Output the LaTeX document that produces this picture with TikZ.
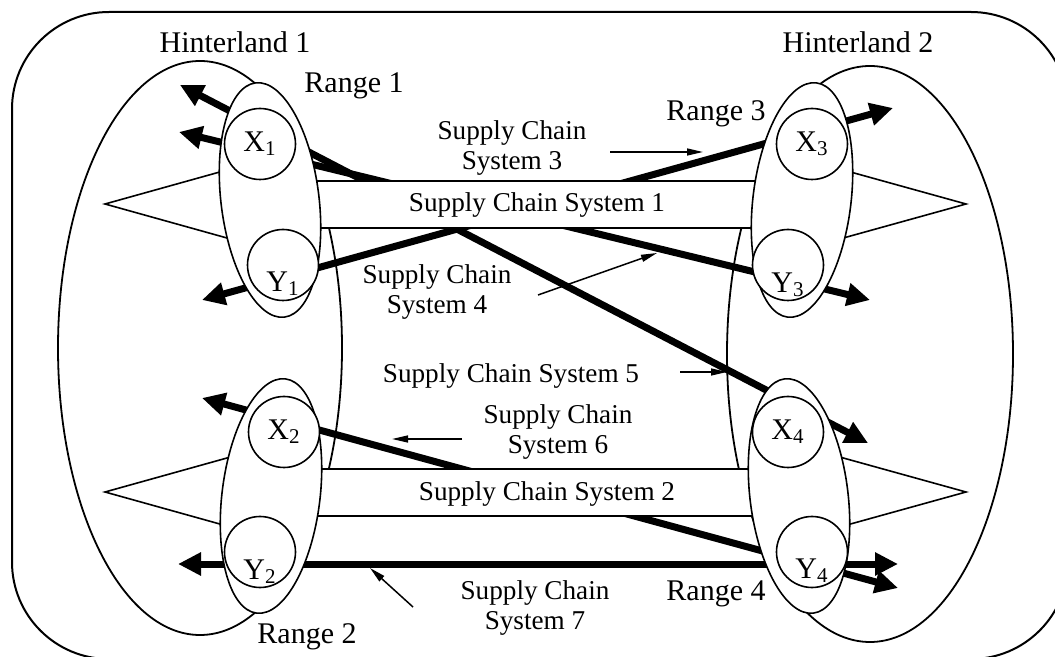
\documentclass[tikz,border=0pt]{standalone}
\usepackage{fontspec}
\setmainfont{Liberation Serif}
\usetikzlibrary{shapes.geometric,arrows.meta}

\tikzset{
  zone/.style={draw, line width=0.9pt},
  band/.style={draw, fill=white, line width=0.8pt},
  rangebox/.style={ellipse, draw, fill=white, line width=0.8pt, inner sep=0pt, minimum width=49pt, minimum height=118pt},
  port/.style={circle, draw, fill=white, line width=0.8pt, inner sep=0pt, minimum size=35.5pt},
  flow/.style={line width=3.5pt, {Triangle[length=11.5pt,width=11pt]}-{Triangle[length=11.5pt,width=11pt]}},
  pointer/.style={line width=0.75pt, -{Triangle[length=8pt,width=3.5pt]}},
  sys/.style={font=\fontsize{13.6}{15}\selectfont, align=center}
}

\begin{document}
\begin{tikzpicture}[x=0.5pt, y=-0.5pt, font=\fontsize{15}{18}\selectfont]
\useasboundingbox (0,0) rectangle (1055,657);

% outer frame and hinterlands
\draw[line width=1pt, rounded corners=48.5pt] (12,12) rectangle (1068,659);
\draw[zone] (200,348) ellipse [x radius=142, y radius=287];
\draw[zone] (870,354) ellipse [x radius=143, y radius=288];

% supply chain flows
\coordinate (x1out) at (180,85);
\coordinate (x4out) at (868,443);
\coordinate (y1out) at (202,300);
\coordinate (x3out) at (893,108);
\coordinate (x1low) at (179,132);
\coordinate (y3out) at (870,300);
\coordinate (x2out) at (202,398);
\coordinate (y4low) at (898,588);
\coordinate (y2out) at (178,564);
\coordinate (y4out) at (898,564);
\draw[flow] (x1out) -- (x4out);
\draw[flow] (y1out) -- (x3out);
\draw[flow] (x1low) -- (y3out);
\draw[flow] (x2out) -- (y4low);
\draw[flow] (y2out) -- (y4out);

% corridors
\foreach \yc in {204,492}
  \draw[band] (105,\yc) -- (270,\yc-46) -- (270,\yc-23) -- (800,\yc-23) -- (800,\yc-46)
    -- (966,\yc) -- (800,\yc+46) -- (800,\yc+24) -- (270,\yc+24) -- (270,\yc+46) -- cycle;

% ranges
\node[rangebox, rotate=7] (rng1) at (270,200) {};
\node[rangebox, rotate=-7] (rng2) at (271,496) {};
\node[rangebox, rotate=-7] (rng3) at (802,200) {};
\node[rangebox, rotate=7] (rng4) at (799,496) {};

% ports
\node[port] (x1) at (260,144) {X\textsubscript{1}};
\node[port, label={[yshift=-9.5pt]center:Y\textsubscript{1}}] (y1) at (283,265) {};
\node[port] (x2) at (284,432) {X\textsubscript{2}};
\node[port, label={[yshift=-10pt]center:Y\textsubscript{2}}] (y2) at (260,552) {};
\node[port] (x3) at (812,144) {X\textsubscript{3}};
\node[port, label={[yshift=-10pt]center:Y\textsubscript{3}}] (y3) at (788,265) {};
\node[port] (x4) at (788,432) {X\textsubscript{4}};
\node[port, label={[yshift=-9.5pt]center:Y\textsubscript{4}}] (y4) at (812,552) {};

% labels
\node (hint1) at (235,42) {Hinterland 1};
\node (hint2) at (858,42) {Hinterland 2};
\node (lab1) at (354,86) {Range 1};
\node (lab3) at (716,114) {Range 3};
\node (lab2) at (307,637) {Range 2};
\node (lab4) at (716,594) {Range 4};

\node[sys] (sc1) at (537,205) {Supply Chain System 1};
\node[sys] (sc2) at (547,494) {Supply Chain System 2};
\node[sys] (sc3) at (512,148) {Supply Chain\\System 3};
\node[sys] (sc4) at (437,292) {Supply Chain\\System 4};
\node[sys] (sc5) at (511,376) {Supply Chain System 5};
\node[sys] (sc6) at (558,432) {Supply Chain\\System 6};
\node[sys] (sc7) at (535,608) {Supply Chain\\System 7};

% pointers
\coordinate (p3a) at (610,152);
\coordinate (p3b) at (703,152);
\coordinate (p4a) at (538,295);
\coordinate (p4b) at (657,253);
\coordinate (p5a) at (680,372);
\coordinate (p5b) at (727,372);
\coordinate (p6a) at (462,439);
\coordinate (p6b) at (392,439);
\coordinate (p7a) at (413,607);
\coordinate (p7b) at (370,568);
\draw[pointer] (p3a) -- (p3b);
\draw[pointer] (p4a) -- (p4b);
\draw[pointer] (p5a) -- (p5b);
\draw[pointer] (p6a) -- (p6b);
\draw[pointer] (p7a) -- (p7b);
\end{tikzpicture}
\end{document}
